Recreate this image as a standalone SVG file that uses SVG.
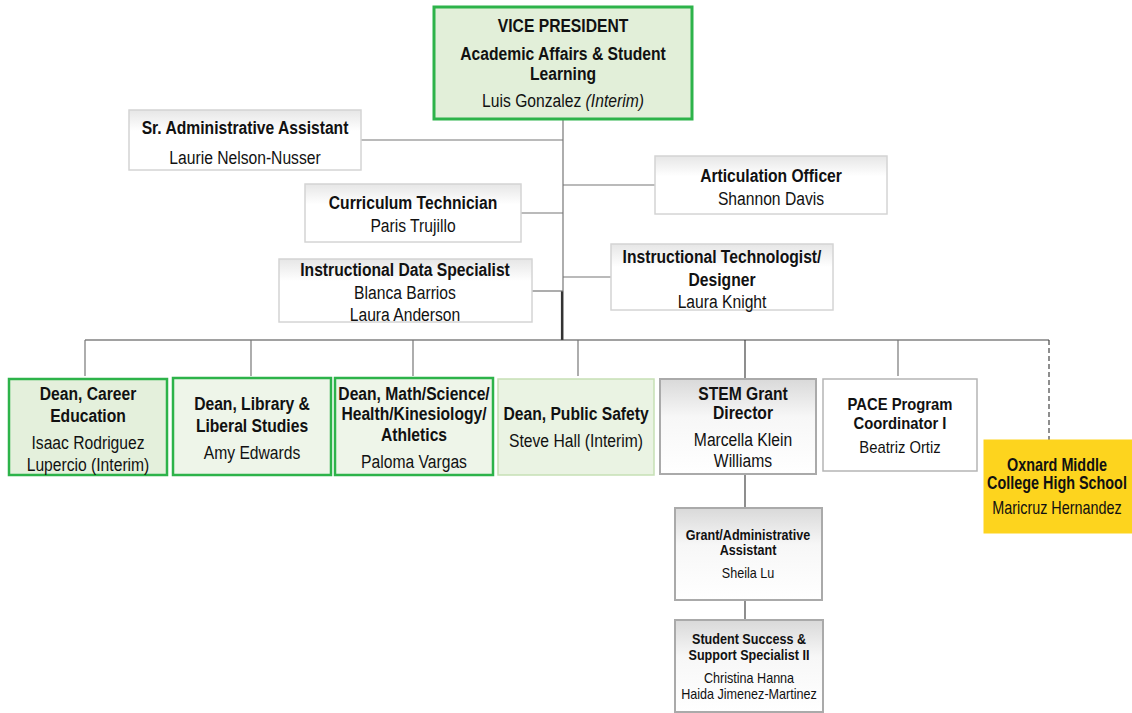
<svg xmlns="http://www.w3.org/2000/svg" width="1132" height="713" viewBox="0 0 1132 713">
<defs>
<linearGradient id="gw" x1="0" y1="0" x2="0" y2="1">
<stop offset="0" stop-color="#e6e6e6"/><stop offset="0.35" stop-color="#ffffff"/><stop offset="1" stop-color="#ffffff"/>
</linearGradient>
<linearGradient id="gg" x1="0" y1="0" x2="0" y2="1">
<stop offset="0" stop-color="#d9d9d9"/><stop offset="0.4" stop-color="#f7f7f7"/><stop offset="1" stop-color="#ffffff"/>
</linearGradient>
<style>
text{font-family:"Liberation Sans",Arial,sans-serif;fill:#111;text-anchor:middle;transform-box:fill-box;transform-origin:center;transform:scaleX(0.87)}
.b{font-weight:bold;font-size:18px}
.n{font-size:18px}
.bs{font-weight:bold;font-size:14px;transform:scaleX(0.9)}
.ns{font-size:14px;transform:scaleX(0.9)}
.nar{transform:scaleX(0.8)}
.p17{font-size:17px}
.staff{fill:url(#gw);stroke:#d4d4d4;stroke-width:1.5}
.dean{fill:#e4f0dc;stroke:#2db34a;stroke-width:2.5}
.deanl{fill:#eef5e9;stroke:#2db34a;stroke-width:2.5}
.deanp{fill:#eaf3e3;stroke:#c6e0b5;stroke-width:1.5}
.grey{fill:url(#gg);stroke:#aaaaaa;stroke-width:2}
.white{fill:#ffffff;stroke:#b5b5b5;stroke-width:1.5}
.yel{fill:#fdd41e;stroke:#fdd41e}
.ln{stroke:#777;stroke-width:1.2;fill:none}
.ld{stroke:#444;stroke-width:1.2;fill:none}
</style>
</defs>
<rect width="1132" height="713" fill="#ffffff"/>
<g id="connectors">
<line class="ln" x1="563" y1="119" x2="563" y2="340"/>
<line class="ld" x1="562" y1="291" x2="562" y2="340" style="stroke-width:2.2;stroke:#333"/>
<line class="ln" x1="361" y1="140" x2="563" y2="140"/>
<line class="ln" x1="521" y1="213" x2="563" y2="213"/>
<line class="ln" x1="532" y1="291" x2="563" y2="291"/>
<line class="ln" x1="563" y1="185" x2="655" y2="185"/>
<line class="ln" x1="563" y1="277" x2="611" y2="277"/>
<line class="ld" x1="85" y1="340" x2="1049" y2="340"/>
<line class="ln" x1="85" y1="340" x2="85" y2="376"/>
<line class="ln" x1="251" y1="340" x2="251" y2="376"/>
<line class="ln" x1="413" y1="340" x2="413" y2="376"/>
<line class="ln" x1="578" y1="340" x2="578" y2="376"/>
<line class="ld" x1="745" y1="340" x2="745" y2="379"/>
<line class="ln" x1="898" y1="340" x2="898" y2="376"/>
<line class="ld" x1="1049" y1="340" x2="1049" y2="440" stroke-dasharray="5,3"/>
<line class="ld" x1="745" y1="474" x2="745" y2="508"/>
<line class="ld" x1="745" y1="600" x2="745" y2="620"/>
</g>
<g id="vp">
<rect x="434" y="7" width="258" height="112" fill="#e2efd9" stroke="#2db34a" stroke-width="3"/>
<text class="b" x="563" y="32">VICE PRESIDENT</text>
<text class="b" x="563" y="60">Academic Affairs &amp; Student</text>
<text class="b" x="563" y="80">Learning</text>
<text class="n" x="563" y="107">Luis Gonzalez <tspan font-style="italic">(Interim)</tspan></text>
</g>
<g id="sr-admin">
<rect class="staff" x="129" y="110" width="232" height="60"/>
<text class="b" x="245" y="134">Sr. Administrative Assistant</text>
<text class="n" x="245" y="164">Laurie Nelson-Nusser</text>
</g>
<g id="curriculum">
<rect class="staff" x="305" y="184" width="216" height="58"/>
<text class="b" x="413" y="209">Curriculum Technician</text>
<text class="n" x="413" y="232">Paris Trujillo</text>
</g>
<g id="articulation">
<rect class="staff" x="655" y="156" width="232" height="58"/>
<text class="b" x="771" y="182">Articulation Officer</text>
<text class="n" x="771" y="205">Shannon Davis</text>
</g>
<g id="data-specialist">
<rect class="staff" x="279" y="259" width="253" height="63"/>
<text class="b" x="405" y="276">Instructional Data Specialist</text>
<text class="n" x="405" y="299">Blanca Barrios</text>
<text class="n" x="405" y="321">Laura Anderson</text>
</g>
<g id="technologist">
<rect class="staff" x="611" y="244" width="222" height="66"/>
<text class="b" x="722" y="263">Instructional Technologist/</text>
<text class="b" x="722" y="286">Designer</text>
<text class="n" x="722" y="308">Laura Knight</text>
</g>
<g id="dean-career">
<rect class="dean" x="9" y="379" width="158" height="96"/>
<text class="b" x="88" y="400">Dean, Career</text>
<text class="b" x="88" y="422">Education</text>
<text class="n" x="88" y="449">Isaac Rodriguez</text>
<text class="n" x="88" y="471">Lupercio (Interim)</text>
</g>
<g id="dean-library">
<rect class="deanl" x="173" y="378" width="158" height="97"/>
<text class="b" x="252" y="410">Dean, Library &amp;</text>
<text class="b" x="252" y="432">Liberal Studies</text>
<text class="n" x="252" y="459">Amy Edwards</text>
</g>
<g id="dean-math">
<rect class="deanl" x="335" y="378" width="158" height="97"/>
<text class="b" x="414" y="400">Dean, Math/Science/</text>
<text class="b" x="414" y="420">Health/Kinesiology/</text>
<text class="b" x="414" y="441">Athletics</text>
<text class="n" x="414" y="468">Paloma Vargas</text>
</g>
<g id="dean-safety">
<rect class="deanp" x="498" y="379" width="156" height="96"/>
<text class="b" x="576" y="420">Dean, Public Safety</text>
<text class="n" x="576" y="447">Steve Hall (Interim)</text>
</g>
<g id="stem">
<rect class="grey" x="660" y="379" width="156" height="95"/>
<text class="b" x="743" y="400">STEM Grant</text>
<text class="b" x="743" y="419">Director</text>
<text class="n" x="743" y="446">Marcella Klein</text>
<text class="n" x="743" y="467">Williams</text>
</g>
<g id="pace">
<rect class="white" x="823" y="379" width="154" height="92"/>
<text class="b p17" x="900" y="410">PACE Program</text>
<text class="b p17" x="900" y="429">Coordinator I</text>
<text class="n p17" x="900" y="453">Beatriz Ortiz</text>
</g>
<g id="oxnard">
<rect class="yel" x="984" y="440" width="148" height="93"/>
<text class="b nar" x="1057" y="471">Oxnard Middle</text>
<text class="b nar" x="1057" y="489">College High School</text>
<text class="n nar" x="1057" y="514">Maricruz Hernandez</text>
</g>
<g id="grant-admin">
<rect class="grey" x="675" y="508" width="147" height="92"/>
<text class="bs" x="748" y="540">Grant/Administrative</text>
<text class="bs" x="748" y="555">Assistant</text>
<text class="ns" x="748" y="578">Sheila Lu</text>
</g>
<g id="student-success">
<rect class="grey" x="675" y="620" width="148" height="92"/>
<text class="bs" x="749" y="644">Student Success &amp;</text>
<text class="bs" x="749" y="660">Support Specialist II</text>
<text class="ns" x="749" y="683">Christina Hanna</text>
<text class="ns" x="749" y="699">Haida Jimenez-Martinez</text>
</g>
</svg>
